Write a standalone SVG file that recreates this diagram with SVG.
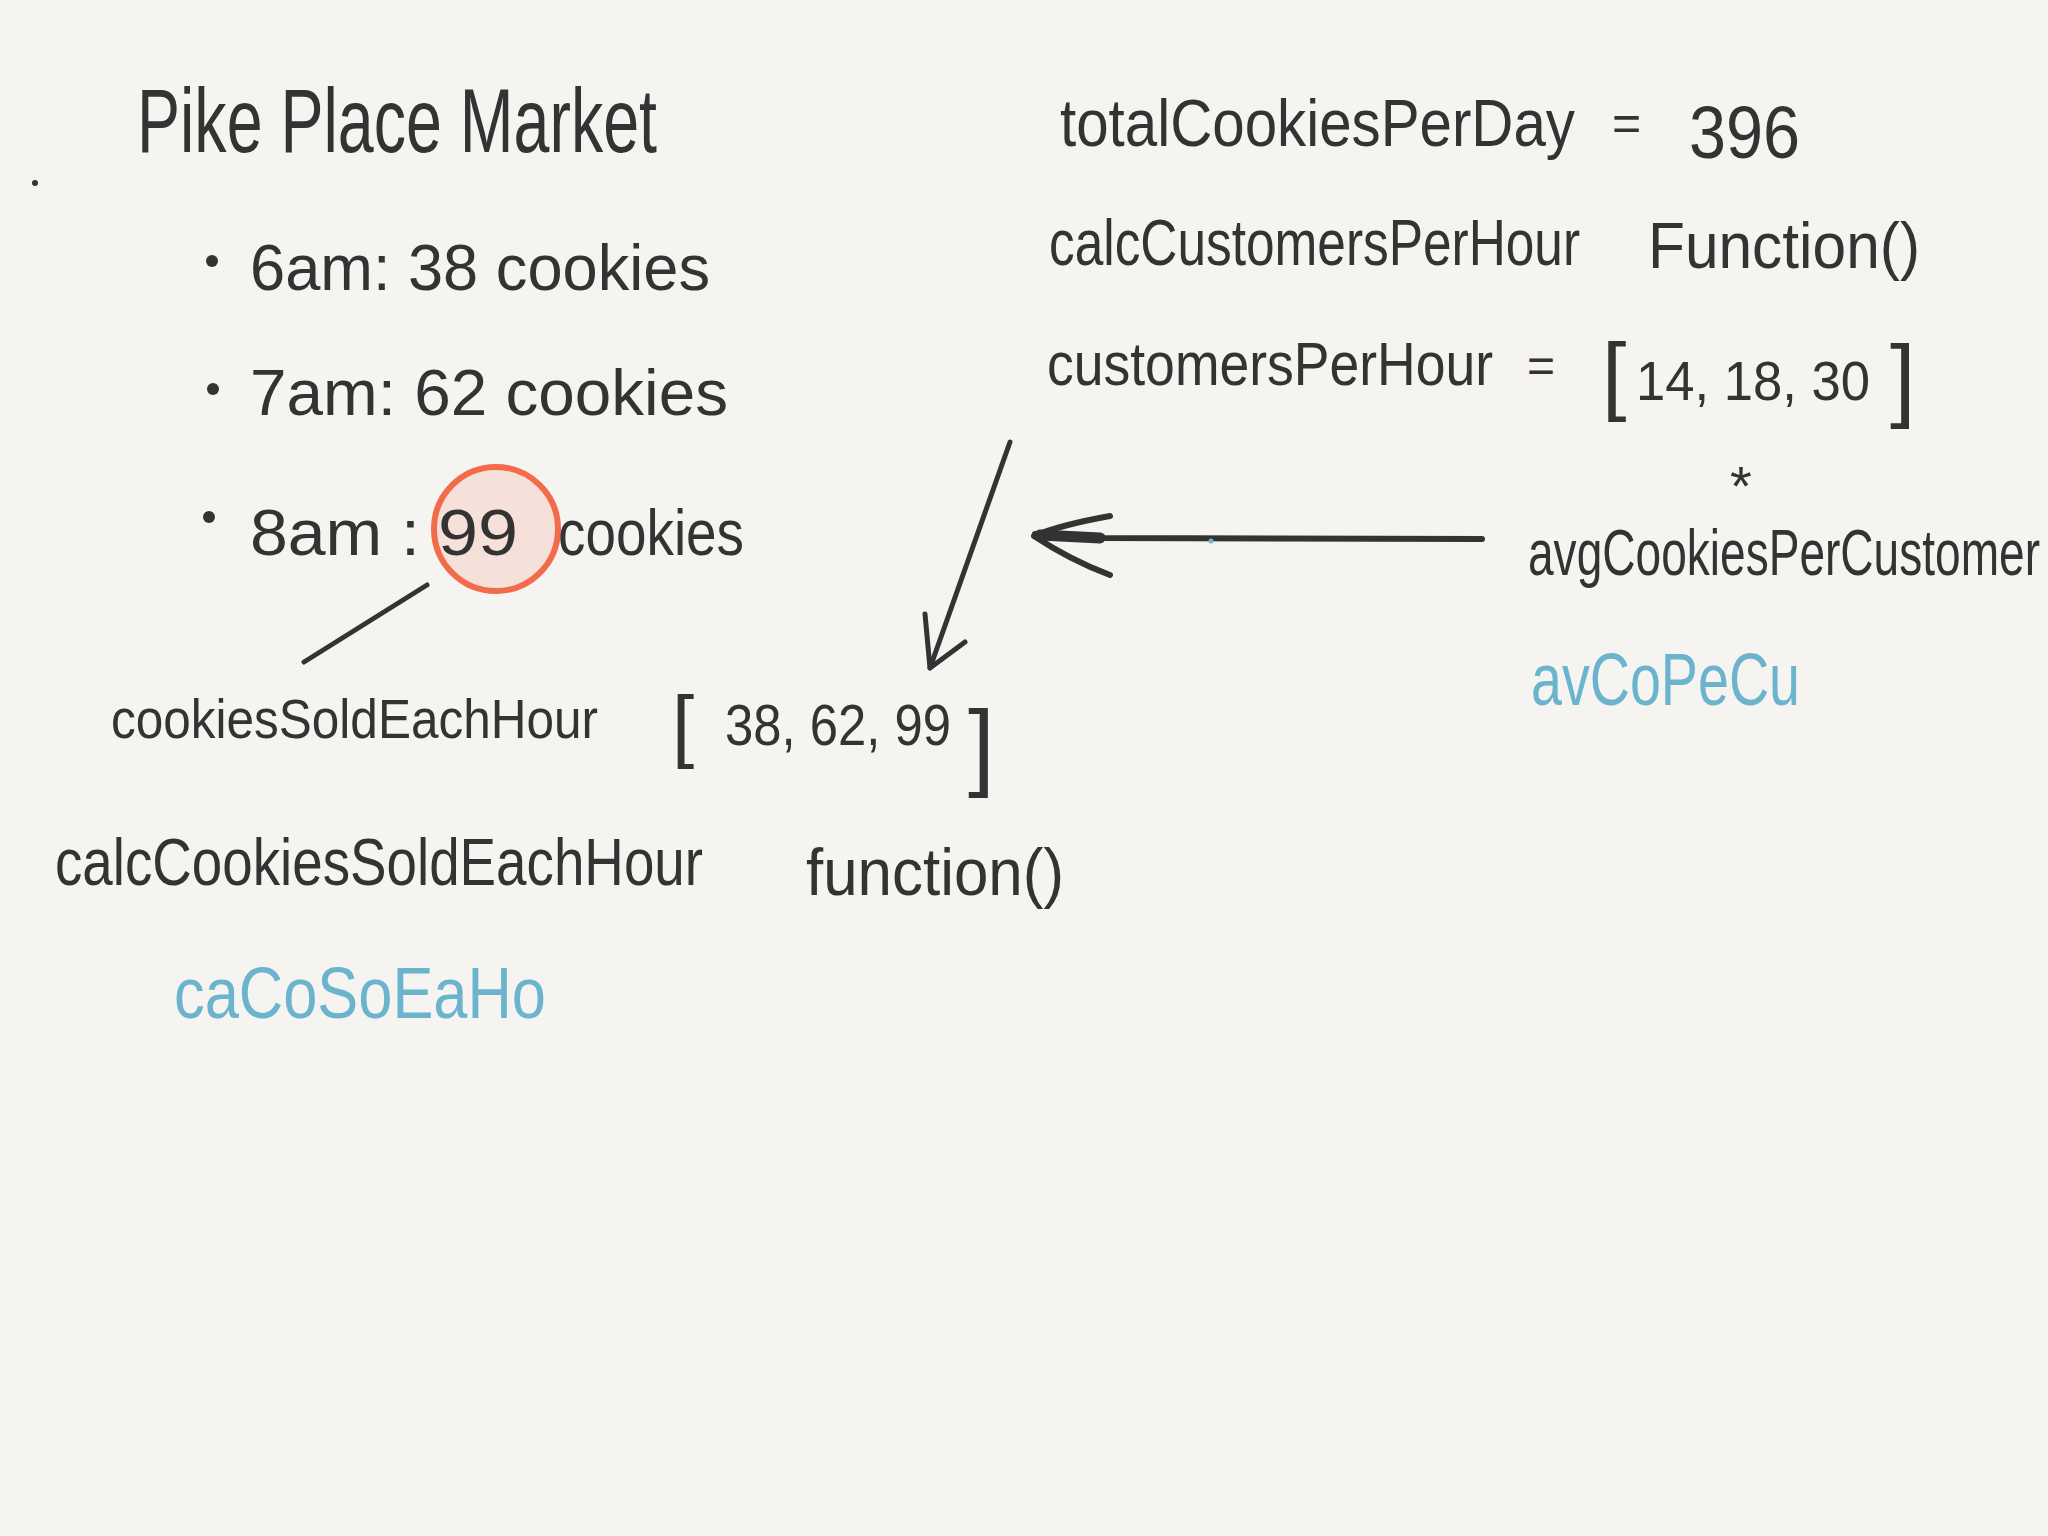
<svg xmlns="http://www.w3.org/2000/svg" width="2048" height="1536" viewBox="0 0 2048 1536">
<style>
text{font-family:"Liberation Sans","DejaVu Sans",sans-serif;fill:#333333}
.blue{fill:#6cb4cd}
.ink{stroke:#333333;stroke-linecap:round;stroke-linejoin:round;fill:none}
.dot{fill:#333333}
</style>
<rect width="2048" height="1536" fill="#f5f4f0"/>
<circle cx="35" cy="183" r="3" class="dot"/>
<g id="title"><text x="137" y="152" font-size="90" textLength="520" lengthAdjust="spacingAndGlyphs">Pike Place Market</text></g>
<g id="row6am"><circle cx="212" cy="261" r="6" class="dot"/><text x="250" y="290" font-size="64" textLength="460" lengthAdjust="spacingAndGlyphs">6am: 38 cookies</text></g>
<g id="row7am"><circle cx="213" cy="389" r="6" class="dot"/><text x="250" y="415" font-size="64" textLength="478" lengthAdjust="spacingAndGlyphs">7am: 62 cookies</text></g>
<g id="row8am"><circle cx="209" cy="517" r="6" class="dot"/><circle cx="496" cy="529" r="62" fill="#f5e0da" stroke="#f46b4c" stroke-width="6"/><text x="250" y="555" font-size="64" textLength="170" lengthAdjust="spacingAndGlyphs">8am :</text><text x="438" y="555" font-size="64" textLength="80" lengthAdjust="spacingAndGlyphs">99</text><text x="558" y="555" font-size="64" textLength="186" lengthAdjust="spacingAndGlyphs">cookies</text></g>
<g id="cookiesSold"><text x="111" y="738" font-size="56" textLength="487" lengthAdjust="spacingAndGlyphs">cookiesSoldEachHour</text><text y="745" font-size="58"><tspan x="672" y="752" font-size="80">[</tspan><tspan x="725" y="745" font-size="58" textLength="226" lengthAdjust="spacingAndGlyphs">38, 62, 99</tspan><tspan x="968" y="778" font-size="96">]</tspan></text></g>
<g id="calcCookies"><text x="55" y="885" font-size="66" textLength="648" lengthAdjust="spacingAndGlyphs">calcCookiesSoldEachHour</text><text x="806" y="895" font-size="66" textLength="258" lengthAdjust="spacingAndGlyphs">function()</text></g>
<g id="abbrCookies"><text class="blue" x="174" y="1018" font-size="72" textLength="372" lengthAdjust="spacingAndGlyphs">caCoSoEaHo</text></g>
<g id="totalCookies"><text y="146" font-size="66"><tspan x="1060" y="146" textLength="515" lengthAdjust="spacingAndGlyphs">totalCookiesPerDay</tspan><tspan x="1612" y="140" font-size="50">=</tspan><tspan x="1689" y="158" font-size="74" textLength="111" lengthAdjust="spacingAndGlyphs">396</tspan></text></g>
<g id="calcCustomers"><text x="1049" y="265" font-size="64" textLength="531" lengthAdjust="spacingAndGlyphs">calcCustomersPerHour</text><text x="1648" y="268" font-size="64" textLength="272" lengthAdjust="spacingAndGlyphs">Function()</text></g>
<g id="customersPerHour"><text y="385" font-size="62"><tspan x="1047" y="385" textLength="446" lengthAdjust="spacingAndGlyphs">customersPerHour</tspan><tspan x="1527" y="382" font-size="48">=</tspan><tspan x="1602" y="404" font-size="88">[</tspan><tspan x="1636" y="400" font-size="56" textLength="234" lengthAdjust="spacingAndGlyphs">14, 18, 30</tspan><tspan x="1890" y="410" font-size="92">]</tspan></text></g>
<g id="avgCookies"><text x="1730" y="505" font-size="56">*</text><text x="1528" y="575" font-size="64" textLength="512" lengthAdjust="spacingAndGlyphs">avgCookiesPerCustomer</text></g>
<g id="abbrAvg"><text class="blue" x="1531" y="705" font-size="74" textLength="269" lengthAdjust="spacingAndGlyphs">avCoPeCu</text></g>
<g id="connectors">
<line class="ink" x1="427" y1="585" x2="304" y2="662" stroke-width="5"/>
<path class="ink" d="M1482 539 L1100 538 L1035 534" stroke-width="6"/>
<path class="ink" d="M1100 538 L1040 535" stroke-width="11"/>
<path class="ink" d="M1110 516 Q1060 525 1034 536 Q1070 560 1110 575" stroke-width="6"/>
<circle cx="1211" cy="541" r="2.5" fill="#6cb4cd"/>
<line class="ink" x1="1010" y1="442" x2="930" y2="668" stroke-width="5"/>
<path class="ink" d="M925 614 L930 668 L965 642" stroke-width="5"/>
</g>
</svg>
